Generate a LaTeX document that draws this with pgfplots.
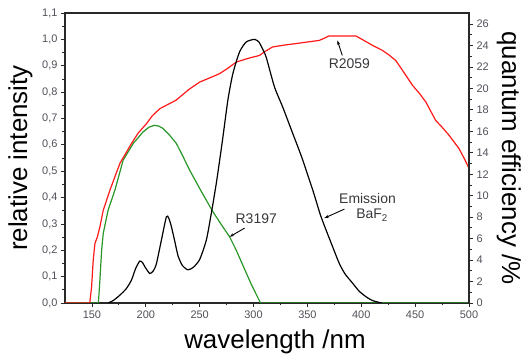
\documentclass[border=0pt]{standalone}
\usepackage{fontspec}
\setmainfont{Liberation Sans}
\usepackage{pgfplots}
\pgfplotsset{compat=1.18}
\usetikzlibrary{arrows.meta}
\definecolor{qred}{RGB}{255,25,25}
\definecolor{qgreen}{RGB}{40,150,40}
\definecolor{tickgray}{RGB}{80,80,90}
\definecolor{anngray}{RGB}{55,55,60}
\definecolor{axgray}{RGB}{40,40,40}
\begin{document}
\begin{tikzpicture}
\pgfplotsset{
  common/.style={
    scale only axis, width=404bp, height=290bp,
    xmin=125, xmax=500,
    tick align=outside, major tick length=4bp, minor tick length=2.5bp,
    every tick/.style={line width=0.8bp, axgray},
    axis line style={line width=1.1bp, axgray},
    tick label style={font=\fontsize{11}{12}\selectfont, text=tickgray},
    /pgf/number format/assume math mode=true,
    label style={font=\fontsize{26}{28}\selectfont, text=black},
  }
}
\begin{axis}[common, name=main,
  ymin=0, ymax=1.1,
  xtick={150,200,250,300,350,400,450,500}, minor x tick num=1,
  ytick={0,0.1,0.2,0.3,0.4,0.5,0.6,0.7,0.8,0.9,1.0,1.1}, minor y tick num=1,
  xtick pos=bottom, ytick pos=left,
  yticklabel style={/pgf/number format/.cd, fixed, fixed zerofill, precision=1, use comma},
  xticklabel style={/pgf/number format/.cd, fixed, precision=0, 1000 sep={}},
  xlabel={wavelength /nm}, ylabel={relative intensity},
  xlabel style={at={(axis description cs:0.5198,-0.1586)}, anchor=base},
  ylabel style={at={(axis description cs:-0.094,0.5)}, anchor=base},
]
% R3197 (green)
\addplot[qgreen, line width=1.2bp] coordinates {
(125,0) (156,0) (157.4,0.087) (159,0.2) (160.5,0.264) (165,0.352) (171.3,0.428)
(179,0.542) (188.3,0.605) (197.5,0.649) (203,0.667) (208,0.674) (212,0.671) (216,0.662)
(222,0.637) (228.4,0.605) (234,0.56) (240.7,0.504) (251,0.427) (262.3,0.346) (270,0.298)
(277.8,0.251) (284,0.2) (290,0.144) (298,0.07) (306.5,0) (500,0)};
% R2059 (red)
\addplot[qred, line width=1.2bp] coordinates {
(125,0) (148,0) (149.7,0.062) (151.2,0.163) (152.8,0.226) (155,0.25) (157.4,0.289)
(160.5,0.352) (166.7,0.428) (176,0.53) (186.7,0.605) (193,0.645) (200.6,0.68) (206,0.71)
(213,0.737) (220,0.752) (228,0.769) (231.5,0.781) (240,0.81) (250,0.838) (260,0.855)
(268.5,0.87) (276,0.89) (284,0.914) (295,0.928) (305.5,0.939) (311,0.955) (317.6,0.971)
(328,0.978) (339.5,0.984) (350,0.99) (361,0.996) (366,1.005) (370,1.013) (395,1.013)
(402,0.997) (410.5,0.977) (419.7,0.958) (426,0.94) (432,0.92) (440,0.872) (447.5,0.826)
(454,0.795) (460,0.762) (469,0.693) (475,0.667) (481.5,0.636) (490.7,0.586) (496,0.545) (500,0.511)};
% Emission BaF2 (black)
\addplot[black, line width=1.2bp, smooth, tension=0.4] coordinates {
(165,0) (170,0.01) (176,0.03) (182,0.055) (186.7,0.087) (190.5,0.13) (194.4,0.159)
(197,0.153) (199.5,0.135) (203.7,0.112) (207,0.122) (209.9,0.15) (214.5,0.239)
(219.1,0.327) (221.3,0.322) (223.8,0.289) (227,0.232) (230,0.178) (234,0.142)
(239,0.126) (244,0.135) (250,0.165) (256.2,0.239) (260.8,0.34) (265.4,0.453)
(268.5,0.54) (271.6,0.63) (276.2,0.77) (280.8,0.87) (287,0.952) (293.2,0.99)
(300.9,1.0) (305,0.99) (308,0.967) (311.7,0.933) (319.4,0.82) (327,0.744)
(336.4,0.643) (345,0.55) (355,0.428) (362,0.335) (367.3,0.277) (372,0.228)
(379.6,0.15) (385,0.11) (392,0.075) (398,0.045) (404.3,0.024) (410,0.01) (416.7,0.002) (419,0)};
% annotations
\node[anngray, font=\fontsize{14}{16}\selectfont] at (axis cs:388.9,0.909) {R2059};
\draw[-{Stealth[length=4.5bp,width=3bp]}, line width=0.9bp, black] (axis cs:382.4,0.939) -- (axis cs:377.8,0.996);
\node[anngray, font=\fontsize{14}{16}\selectfont] at (axis cs:302.5,0.321) {R3197};
\draw[-{Stealth[length=4.5bp,width=3bp]}, line width=0.9bp, black] (axis cs:291.7,0.284) -- (axis cs:277.8,0.251);
\node[anngray, font=\fontsize{14}{16}\selectfont] at (axis cs:405.8,0.397) {Emission};
\node[anngray, font=\fontsize{14}{16}\selectfont] at (axis cs:410,0.333) {BaF\textsubscript{2}};
\draw[-{Stealth[length=4.5bp,width=3bp]}, line width=0.9bp, black] (axis cs:384.3,0.356) -- (axis cs:365.7,0.322);
\end{axis}
\begin{axis}[common,
  ymin=0, ymax=27.03,
  axis y line*=right, axis x line=none,
  ytick={0,2,4,6,8,10,12,14,16,18,20,22,24,26}, minor y tick num=1,
  ylabel={quantum efficiency /\%},
  ylabel style={at={(axis description cs:1.0817,0.5)}, anchor=base, rotate=180},
]
\addplot[draw=none, forget plot] coordinates {(200,0)};
\end{axis}
\pgfresetboundingbox
\path (main.south west) ++(-65bp,-52bp) rectangle ++(529bp,355bp);
\end{tikzpicture}
\end{document}
